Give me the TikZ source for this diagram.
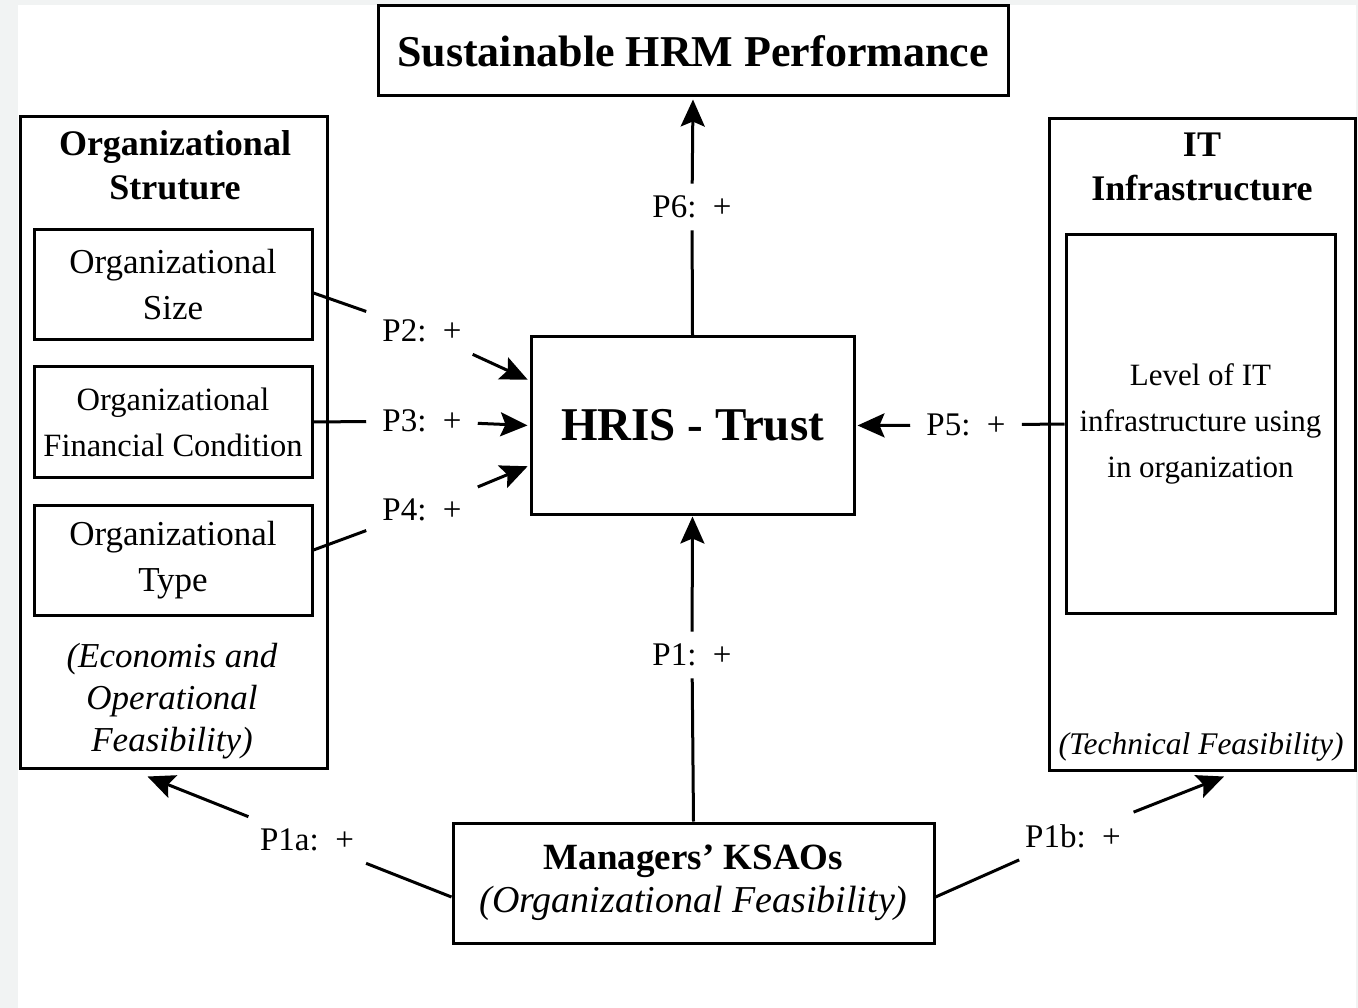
\documentclass[tikz,border=0pt]{standalone}
\usepackage{fontspec}
\setmainfont{Liberation Serif}
\usetikzlibrary{arrows.meta}
\definecolor{bggray}{HTML}{F1F3F3}

\tikzset{
  box/.style={draw, line width=3pt, align=center, inner sep=0pt},
  title/.style={align=center, font=\bfseries\fontsize{36}{44}\selectfont},
  note/.style={align=center, font=\itshape\fontsize{35}{42}\selectfont},
  lbl/.style={font=\fontsize{33}{36}\selectfont, inner xsep=16pt, inner ysep=12pt},
  conn/.style={line width=3pt},
  arr/.style={line width=3pt, -{Stealth[length=27pt,width=24pt,inset=5pt]}},
}

\begin{document}
\begin{tikzpicture}[x=1pt, y=-1pt]
  \fill[bggray] (0,0) rectangle (1358,1008);
  \fill[white] (18,5) rectangle (1356,1008);
  \useasboundingbox (0,0) rectangle (1358,1008);

  \node (perf) [box, minimum width=630pt, minimum height=90pt,
    font=\bfseries\fontsize{44}{50}\selectfont] at (693,51) {Sustainable HRM Performance};

  % left block
  \node (org) [box, minimum width=307pt, minimum height=651pt] at (173.5,442.5) {};
  \node (orgtitle) [title] at (175,165) {Organizational\\Struture};
  \node (size) [box, minimum width=278pt, minimum height=110pt,
    font=\fontsize{35}{46}\selectfont] at (173,285) {Organizational\\Size};
  \node (fin) [box, minimum width=278pt, minimum height=110pt,
    font=\fontsize{32.5}{46}\selectfont] at (173,422) {Organizational\\Financial Condition};
  \node (type) [box, minimum width=278pt, minimum height=110pt,
    font=\fontsize{35}{46}\selectfont] at (173,560) {Organizational\\Type};
  \node (orgnote) [note] at (172,701) {(Economis and\\Operational\\Feasibility)};

  % right block
  \node (it) [box, minimum width=306pt, minimum height=651pt] at (1202,444.5) {};
  \node (ittitle) [title] at (1202,167) {IT\\Infrastructure};
  \node (level) [box, minimum width=269pt, minimum height=378pt,
    font=\fontsize{31}{46}\selectfont] at (1200.5,424) {Level of IT\\infrastructure using\\in organization};
  \node (itnote) [note, font=\itshape\fontsize{31.5}{42}\selectfont] at (1201,747) {(Technical Feasibility)};

  % center and bottom
  \node (hris) [box, minimum width=323pt, minimum height=177pt,
    font=\bfseries\fontsize{47}{52}\selectfont] at (692.5,425.5) {HRIS - Trust};
  \node (ksao) [box, minimum width=481pt, minimum height=120pt,
    font=\fontsize{37}{43}\selectfont] at (693.5,883) {\textbf{Managers’ KSAOs}\\\textit{\fontsize{38}{43}\selectfont(Organizational Feasibility)}};

  % labels
  \node (p1) [lbl] at (692,655) {P1:\enspace+};
  \node (p2) [lbl] at (422,331) {P2:\enspace+};
  \node (p3) [lbl] at (422,421) {P3:\enspace+};
  \node (p4) [lbl] at (422,510) {P4:\enspace+};
  \node (p5) [lbl] at (966,425) {P5:\enspace+};
  \node (p6) [lbl] at (692,207) {P6:\enspace+};
  \node (p1a) [lbl] at (307,840) {P1a:\enspace+};
  \node (p1b) [lbl] at (1073,836) {P1b:\enspace+};

  % connectors
  \draw[conn] (hris.north) -- (p6);
  \draw[arr, shorten >=2pt] (p6) -- (perf.south);
  \draw[conn] (ksao.north) -- (p1);
  \draw[arr, shorten >=1pt] (p1) -- (hris.south);
  \draw[conn] ([yshift=-8pt]size.east) -- (p2);
  \draw[arr, shorten >=2pt] (p2) -- ([yshift=45pt]hris.west);
  \draw[conn] (fin.east) -- (p3);
  \draw[arr, shorten >=2pt] (p3) -- (hris.west);
  \draw[conn] ([yshift=10pt]type.east) -- (p4);
  \draw[arr, shorten >=2pt] (p4) -- ([yshift=-40pt]hris.west);
  \draw[conn] (level.west) -- (p5);
  \draw[arr, shorten >=2pt] (p5) -- (hris.east);
  \draw[conn] ([yshift=-14pt]ksao.west) -- (p1a);
  \draw[arr] (p1a) -- ([xshift=-26pt,yshift=-7pt]org.south);
  \draw[conn] ([yshift=-14pt]ksao.east) -- (p1b);
  \draw[arr] (p1b) -- ([xshift=22pt,yshift=-5pt]it.south);
\end{tikzpicture}
\end{document}
